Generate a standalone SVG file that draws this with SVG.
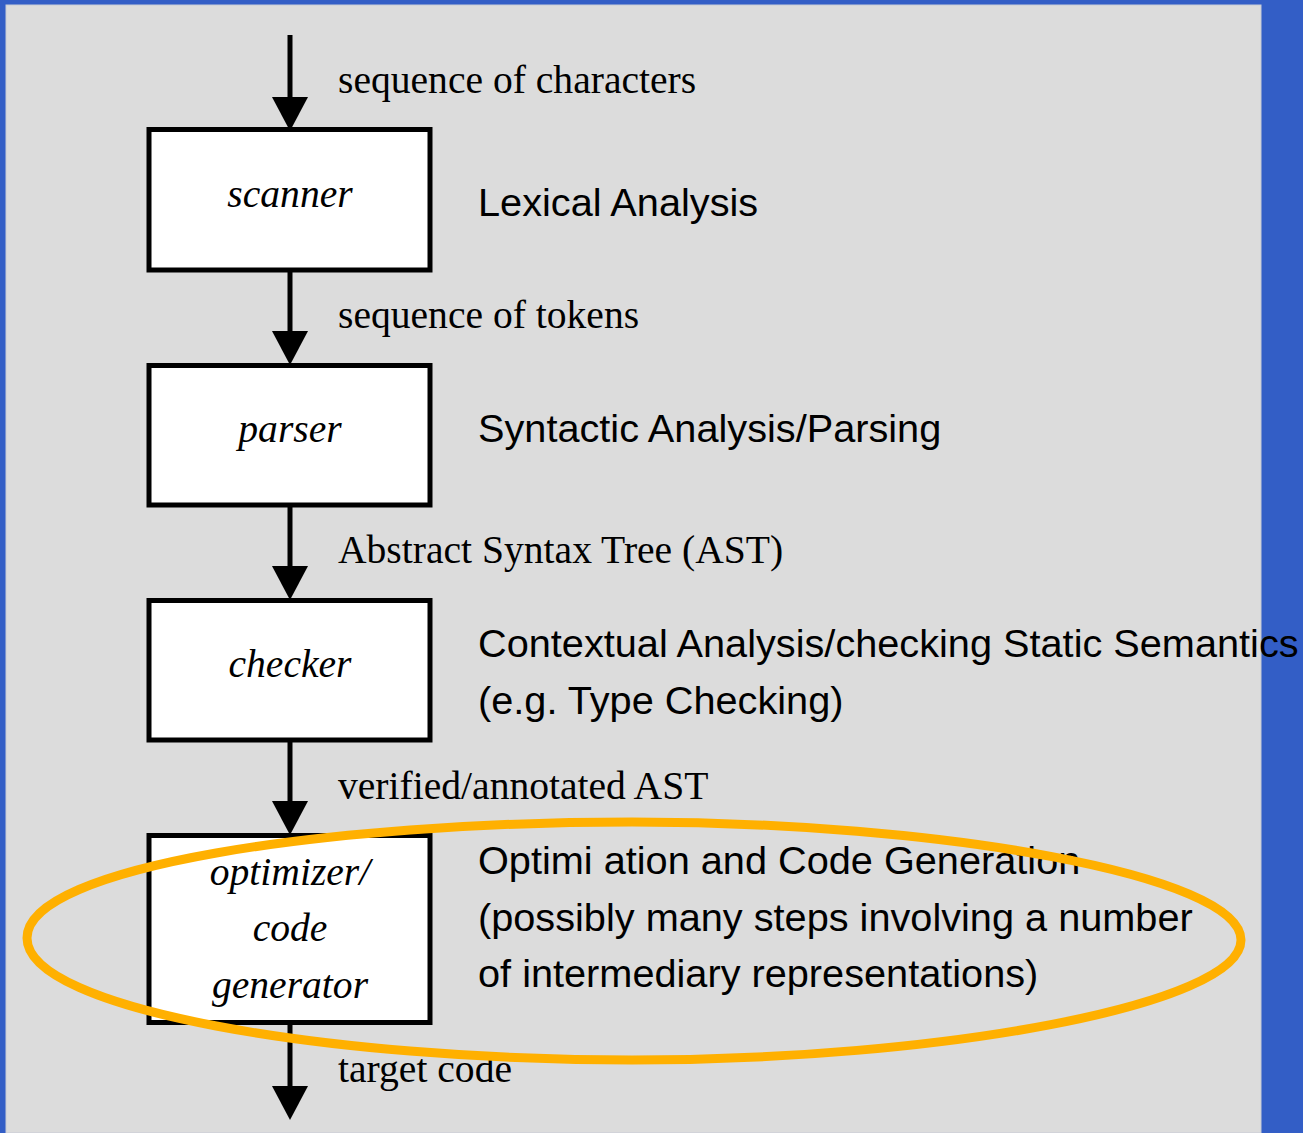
<svg xmlns="http://www.w3.org/2000/svg" width="1303" height="1133" viewBox="0 0 1303 1133">
<defs>
<style>
.node rect{fill:#fff;stroke:#000;stroke-width:5}
.nl{font-family:"Liberation Serif",serif;font-style:italic;font-size:39.6px;text-anchor:middle;fill:#000}
.el{font-family:"Liberation Serif",serif;font-size:39.6px;fill:#000}
.desc{font-family:"Liberation Sans",Arial,sans-serif;font-size:39.7px;fill:#000}
.conn line{stroke:#000;stroke-width:5}
</style>
<marker id="ah" markerUnits="userSpaceOnUse" viewBox="0 0 34 36" refX="0" refY="18" markerWidth="34" markerHeight="36" orient="auto">
<path d="M0,0 L34,18 L0,36 Z" fill="#000"/>
</marker>
</defs>
<rect x="0" y="0" width="1303" height="1133" fill="#335ec6"/>
<rect x="6" y="5" width="1255" height="1128" fill="#dcdcdc" stroke="#c8cbd6" stroke-width="1"/>
<g id="connectors" class="conn">
<line x1="290" y1="35" x2="290" y2="97" marker-end="url(#ah)"/>
<line x1="290" y1="272" x2="290" y2="331" marker-end="url(#ah)"/>
<line x1="290" y1="507" x2="290" y2="566" marker-end="url(#ah)"/>
<line x1="290" y1="742" x2="290" y2="801" marker-end="url(#ah)"/>
<line x1="290" y1="1025" x2="290" y2="1086" marker-end="url(#ah)"/>
</g>
<g id="edge-labels">
<text class="el" x="338" y="93">sequence of characters</text>
<text class="el" x="338" y="328">sequence of tokens</text>
<text class="el" x="338" y="563">Abstract Syntax Tree (AST)</text>
<text class="el" x="338" y="799">verified/annotated AST</text>
<text class="el" x="338" y="1082">target code</text>
</g>
<g id="scanner" class="node">
<rect x="149" y="129.5" width="281" height="140.5"/>
<text class="nl" x="290" y="207">scanner</text>
</g>
<g id="parser" class="node">
<rect x="149" y="365.5" width="281" height="139.5"/>
<text class="nl" x="290" y="442">parser</text>
</g>
<g id="checker" class="node">
<rect x="149" y="600.5" width="281" height="139.5"/>
<text class="nl" x="290" y="677">checker</text>
</g>
<g id="optimizer" class="node">
<rect x="149" y="835.5" width="281" height="187"/>
<text class="nl" x="290" y="885">optimizer/</text>
<text class="nl" x="290" y="941">code</text>
<text class="nl" x="290" y="998">generator</text>
</g>
<g id="descriptions">
<text class="desc" x="478" y="216">Lexical Analysis</text>
<text class="desc" x="478" y="442">Syntactic Analysis/Parsing</text>
<text class="desc" x="478" y="657">Contextual Analysis/checking Static Semantics</text>
<text class="desc" x="478" y="714">(e.g. Type Checking)</text>
<text class="desc" x="478" y="874">Optimi ation and Code Generation</text>
<text class="desc" x="478" y="931">(possibly many steps involving a number</text>
<text class="desc" x="478" y="987">of intermediary representations)</text>
</g>
<g id="highlight">
<path d="M27,938 C27,866 330,822 632,822 C940,822 1241,875 1241,940 C1241,1005 940,1060 632,1060 C330,1060 27,1010 27,938 Z" fill="none" stroke="#ffb000" stroke-width="9"/>
</g>
</svg>
